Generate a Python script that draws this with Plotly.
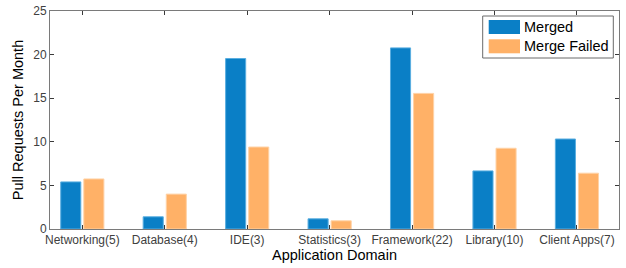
import plotly.graph_objects as go

categories = ["Networking(5)", "Database(4)", "IDE(3)", "Statistics(3)",
              "Framework(22)", "Library(10)", "Client Apps(7)"]
merged = [5.4, 1.4, 19.55, 1.17, 20.77, 6.66, 10.32]
merge_failed = [5.74, 4.0, 9.4, 0.94, 15.55, 9.26, 6.4]
series_names = ["Merged", "Merge Failed"]
y_ticks = [0, 5, 10, 15, 20, 25]

BLUE = "#0A7FC6"
ORANGE = "#FFB167"
FONT = "Liberation Sans, Arial, sans-serif"

fig = go.Figure()
fig.add_trace(go.Bar(x=categories, y=merged, name=series_names[0],
                     marker=dict(color=BLUE, line=dict(color="#5AAEE0", width=1)),
                     showlegend=False))
fig.add_trace(go.Bar(x=categories, y=merge_failed, name=series_names[1],
                     marker=dict(color=ORANGE, line=dict(color="#FFD2A6", width=1)),
                     showlegend=False))

axis_common = dict(showline=True, linecolor="#7a7a7a", linewidth=1, mirror="allticks",
                   ticks="inside", ticklen=4, tickcolor="#3a3a3a", showgrid=False,
                   zeroline=False, automargin=False,
                   tickfont=dict(family=FONT, size=12, color="#404040"))

fig.update_layout(
    width=626, height=268,
    margin=dict(l=50, r=7, t=11, b=39),
    paper_bgcolor="white", plot_bgcolor="white",
    barmode="group", bargap=0.44, bargroupgap=0.13,
    font=dict(family=FONT, color="black"),
    xaxis=dict(range=[-0.392, 6.51], type="category",
               title=dict(text="Application Domain", font=dict(family=FONT, size=14.5, color="black"),
                          standoff=2),
               **axis_common),
    yaxis=dict(range=[0, 25], tickvals=y_ticks,
               title=dict(text="Pull Requests Per Month", font=dict(family=FONT, size=14.5, color="black"),
                          standoff=6),
               **axis_common),
)

# Legend drawn in paper coordinates (MATLAB-style wide swatches)
px_w, px_h = 626 - 50 - 7, 268 - 11 - 39
def px(xp):
    return (xp - 50) / px_w
def py(yp):
    return (268 - 39 - yp) / px_h

fig.add_shape(type="rect", xref="paper", yref="paper",
              x0=px(482.7), x1=px(613.3), y0=py(58), y1=py(16),
              line=dict(color="#6a6a6a", width=1), fillcolor="white", layer="above")
for i, (name, col) in enumerate(zip(series_names, [BLUE, ORANGE])):
    top = 20 + i * 19.3
    fig.add_shape(type="rect", xref="paper", yref="paper",
                  x0=px(488.7), x1=px(520), y0=py(top + 14), y1=py(top),
                  line=dict(width=0), fillcolor=col, layer="above")
    fig.add_annotation(xref="paper", yref="paper", x=px(522), y=py(top + 7),
                       text=name, showarrow=False, xanchor="left", yanchor="middle",
                       font=dict(family=FONT, size=14.5, color="black"))

fig.write_html("out.html", config={"displayModeBar": False},
               post_script="document.body.style.margin='0';document.body.style.padding='0';document.body.style.overflow='hidden';")
